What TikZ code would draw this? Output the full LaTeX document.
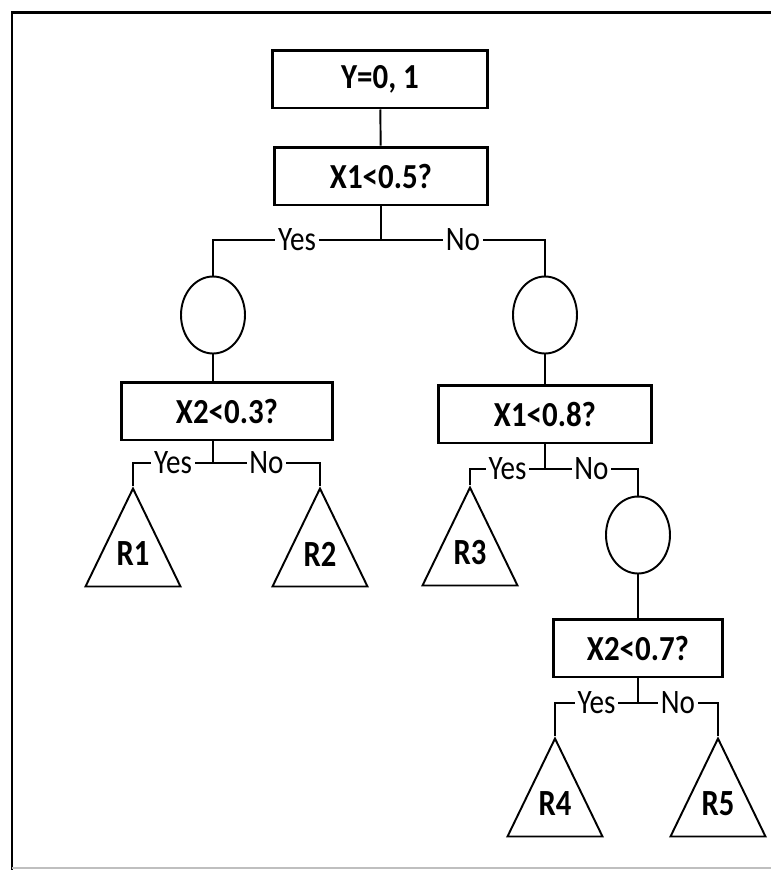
\documentclass[tikz,border=0pt]{standalone}
\usepackage{fontspec}
\setmainfont{Carlito}
\newfontfamily\testfont[FakeStretch=0.88]{Carlito}
\newfontfamily\answerfont[FakeStretch=0.85]{Carlito}
\newfontfamily\leaffont[FakeStretch=0.83]{Carlito}
\usetikzlibrary{positioning, shapes.geometric, calc}

\tikzset{
  testbox/.style={draw, line width=1.7pt, minimum height=1.16cm, inner sep=0pt, font=\testfont\fontsize{20}{24}\selectfont\bfseries},
  split/.style={draw, ellipse, line width=1.1pt, minimum width=1.28cm, minimum height=1.54cm, inner sep=0pt},
  leaf/.style={draw, line width=1.1pt, isosceles triangle, shape border rotate=90, isosceles triangle stretches, minimum width=1.9cm, minimum height=1.96cm, inner sep=0pt, anchor=apex},
  leaflbl/.style={inner sep=0pt, font=\leaffont\fontsize{21}{24}\selectfont\bfseries},
  link/.style={line width=1.1pt},
  answer/.style={fill=white, inner sep=1.5pt, font=\answerfont\fontsize{19.5}{22}\selectfont}
}

\begin{document}
\begin{tikzpicture}[x=0.02cm, y=-0.02cm]
\useasboundingbox (0,0) rectangle (771,870);
% frame
\draw[line width=1.7pt] (12,870) -- (12,12) -- (771,12);
\draw[gray!50, line width=0.8pt] (12,868) -- (771,868);

% root and first test
\node[testbox, minimum width=4.32cm] (root) at (380,79) {Y=0, 1};
\node[testbox, minimum width=4.28cm] (q1) at (381,176) {X1<0.5?};
\draw[link] (root) -- (q1);
\coordinate (j1) at (381,240);
\node[split] (c1) at (213,315) {};
\node[split] (c2) at (545,315) {};
\draw[link] (q1) -- (j1);
\draw[link] (j1) -| node[answer, pos=0.25] {Yes} (c1.north);
\draw[link] (j1) -| node[answer, pos=0.25] {No} (c2.north);

% left branch
\node[testbox, minimum width=4.22cm] (q2) at (227,411) {X2<0.3?};
\draw[link] (c1.south) -- (c1.south |- q2.north);
\coordinate (j2) at (213,463);
\draw[link] (c1.south |- q2.south) -- (j2);
\node[leaf] (r1) at (133,486) {};
\node[leaf] (r2) at (320,486) {};
\node[leaflbl] (r1txt) at ($(r1.apex)!0.67!(r1.lower side)$) {R1};
\node[leaflbl] (r2txt) at ($(r2.apex)!0.67!(r2.lower side)$) {R2};
\draw[link] (j2) -| node[answer, pos=0.25] {Yes} (r1.apex);
\draw[link] (j2) -| node[answer, pos=0.25] {No} (r2.apex);

% right branch
\node[testbox, minimum width=4.28cm] (q3) at (545,414) {X1<0.8?};
\draw[link] (c2) -- (q3);
\coordinate (j3) at (545,469);
\node[leaf] (r3) at (470,485) {};
\node[leaflbl] (r3txt) at ($(r3.apex)!0.67!(r3.lower side)$) {R3};
\node[split] (c3) at (638,535) {};
\draw[link] (q3) -- (j3);
\draw[link] (j3) -| node[answer, pos=0.25] {Yes} (r3.apex);
\draw[link] (j3) -| node[answer, pos=0.25] {No} (c3.north);

\node[testbox, minimum width=3.4cm] (q4) at (638,648) {X2<0.7?};
\draw[link] (c3) -- (q4);
\coordinate (j4) at (638,703);
\node[leaf] (r4) at (555,736) {};
\node[leaf] (r5) at (718,736) {};
\node[leaflbl] (r4txt) at ($(r4.apex)!0.67!(r4.lower side)$) {R4};
\node[leaflbl] (r5txt) at ($(r5.apex)!0.67!(r5.lower side)$) {R5};
\draw[link] (q4) -- (j4);
\draw[link] (j4) -| node[answer, pos=0.25] {Yes} (r4.apex);
\draw[link] (j4) -| node[answer, pos=0.25] {No} (r5.apex);
\end{tikzpicture}
\end{document}
